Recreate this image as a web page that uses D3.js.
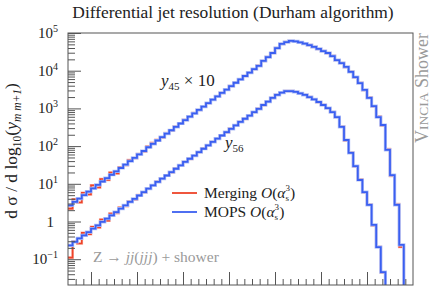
<!DOCTYPE html>
<html><head><meta charset="utf-8">
<script src="https://cdn.jsdelivr.net/npm/d3@7"></script>
<style>
body{margin:0;background:#fff}
svg{display:block}
text{font-family:"Liberation Serif","DejaVu Serif",serif}
</style>
</head><body><svg id="c" width="431" height="286"></svg>
<script>
// ---- data ----
const binStart = -7.5;
const binWidth = 0.1;
const xMajorTicks = [-7, -6, -5, -4, -3, -2, -1];
const yTickExponents = [-1, 0, 1, 2, 3, 4, 5];
const y45Factor = 10;

const y45Merging = [0.22,0.39,0.32,0.58,0.52,0.91,0.80,1.34,1.26,1.98,1.89,2.75,3.10,4.30,4.75,6.20,7.20,9.70,12.2,14.6,
  16.8,22.1,25.9,33.0,39.2,49.5,59.8,75.2,90.5,113,137,171,208,258,314,391,477,592,721,895,
  1090,1360,1810,2300,2940,3990,5110,5770,6150,5970,5600,5260,4770,4290,3780,3330,2930,2470,1890,1600,
  1240,945,665,475,302,196,112,61.0,35.1,8.30,1.62,0.290,0.021,0.0006,0];
const y45Mops = [0.269,0.331,0.407,0.501,0.617,0.759,0.933,1.15,1.41,1.74,2.14,2.63,3.24,3.98,4.90,6.03,7.41,9.33,11.5,14.1,
  17.4,21.4,26.3,32.4,39.8,49.0,60.3,74.1,91.2,112,138,170,209,257,316,389,479,589,724,891,
  1100,1350,1820,2290,2950,3980,5130,5750,6170,5960,5620,5250,4790,4270,3800,3310,2950,2450,1910,1580,
  1260,933,676,468,309,191,115,58.9,36.3,7.94,1.70,0.275,0.024,0.0005,0];
const y56Merging = [0.11,0.30,0.26,0.50,0.46,0.72,0.70,1.12,1.05,1.62,1.66,2.35,2.55,3.45,3.85,5.05,5.90,7.60,9.00,11.4,
  13.6,16.9,20.1,25.4,30.6,38.4,45.8,56.8,68.6,85.9,104,130,157,193,232,290,352,441,527,651,
  789,984,1220,1520,1900,2300,2620,2890,2870,2760,2500,2300,1990,1750,1470,1240,1010,801,583,330,
  142,67.5,28.9,12.9,5.90,2.81,0.79,0.215,0.044,0,0,0,0,0,0];
const y56Mops = [0.234,0.288,0.355,0.427,0.525,0.646,0.794,0.977,1.20,1.45,1.78,2.19,2.69,3.31,3.98,4.90,6.03,7.41,9.12,11.2,
  13.8,16.6,20.4,25.1,30.9,38.0,46.2,56.2,69.2,85.1,105,129,158,191,234,288,355,437,531,646,
  794,977,1230,1510,1910,2290,2630,2880,2880,2750,2510,2290,2000,1740,1480,1230,1020,794,589,324,
  145,66.1,29.5,12.6,6.03,2.75,0.813,0.209,0.0457,0,0,0,0,0,0];

// ---- layout ----
const L = 68, R = 413, T = 33, B = 285;
const svg = d3.select("#c");
const x = d3.scaleLinear().domain([-7.5, 0]).range([L, R]);
const y = d3.scaleLog().domain([Math.pow(10, -1.684), 1e5]).range([B, T]);

const RED = "#ee4329", BLUE = "#3b5ff0";

svg.append("defs").append("clipPath").attr("id", "clip")
  .append("rect").attr("x", L).attr("y", T).attr("width", R - L).attr("height", B - T);

function stepPts(vals, factor) {
  const pts = vals.map((v, i) => [binStart + i * binWidth, v * factor]);
  pts.push([binStart + vals.length * binWidth, vals[vals.length - 1] * factor]);
  return pts;
}
const line = d3.line()
  .x(d => x(d[0]))
  .y(d => d[1] > 0 ? y(d[1]) : B + 20)
  .curve(d3.curveStepAfter);

const g = svg.append("g").attr("clip-path", "url(#clip)");
function drawSeries(vals, factor, color, halo, hw, cw) {
  const p = stepPts(vals, factor);
  if (halo) g.append("path").attr("d", line(p)).attr("fill", "none")
    .attr("stroke", halo).attr("stroke-width", hw);
  g.append("path").attr("d", line(p)).attr("fill", "none")
    .attr("stroke", color).attr("stroke-width", cw);
}
drawSeries(y45Merging, y45Factor, RED, "#f8b4a8", 2.6, 1.6);
drawSeries(y56Merging, 1, RED, "#f8b4a8", 2.6, 1.6);
drawSeries(y45Mops, y45Factor, BLUE, "#b3c1f8", 3.2, 1.8);
drawSeries(y56Mops, 1, BLUE, "#b3c1f8", 3.2, 1.8);

// ---- frame & axes ----
svg.append("rect").attr("x", L).attr("y", T).attr("width", R - L).attr("height", B - T)
  .attr("fill", "none").attr("stroke", "#555").attr("stroke-width", 1);

const yMinor = [];
for (let e = -2; e <= 4; e++) for (let k = 2; k <= 9; k++) {
  const v = k * Math.pow(10, e);
  if (v >= y.domain()[0] && v <= 1e5) yMinor.push(v);
}
const yAx = svg.append("g").attr("transform", `translate(${L},0)`);
yAx.call(d3.axisRight(y).tickValues(yTickExponents.map(e => Math.pow(10, e))).tickSize(13).tickFormat(""));
yAx.call(g2 => g2.select(".domain").remove());
const yAx2 = svg.append("g").attr("transform", `translate(${L},0)`);
yAx2.call(d3.axisRight(y).tickValues(yMinor).tickSize(7).tickFormat(""));
yAx2.call(g2 => g2.select(".domain").remove());

const xMinor = [];
for (let v = -7.5; v < 0; v += 1 / 6) {
  const r = Math.round(v * 6) / 6;
  if (Math.abs(r - Math.round(r)) > 1e-6 && r > -7.5) xMinor.push(r);
}
const xAx = svg.append("g").attr("transform", `translate(0,${B})`);
xAx.call(d3.axisTop(x).tickValues(xMajorTicks).tickSize(13).tickFormat(""));
xAx.call(g2 => g2.select(".domain").remove());
const xAx2 = svg.append("g").attr("transform", `translate(0,${B})`);
xAx2.call(d3.axisTop(x).tickValues(xMinor).tickSize(6).tickFormat(""));
xAx2.call(g2 => g2.select(".domain").remove());
svg.selectAll(".tick line").attr("stroke", "#555");

// y tick labels
yTickExponents.forEach(e => {
  const t = svg.append("text").attr("y", y(Math.pow(10, e)) + 5).attr("font-size", 15).attr("fill", "#222");
  if (e === 0) {
    t.attr("x", 54).attr("text-anchor", "end").text("1");
  } else {
    t.attr("x", 58).attr("text-anchor", "end");
    t.append("tspan").text("10");
    t.append("tspan").attr("font-size", 10).attr("dy", -6).text(e < 0 ? "\u2212" + (-e) : String(e));
  }
});

// title
svg.append("text").attr("x", 233).attr("y", 18).attr("text-anchor", "middle")
  .attr("font-size", 17.4).attr("fill", "#222")
  .text("Differential jet resolution (Durham algorithm)");

// y axis title
const yt = svg.append("text").attr("transform", "translate(17,151) rotate(-90)")
  .attr("text-anchor", "middle").attr("font-size", 17.5).attr("fill", "#222");
yt.append("tspan").text("d \u03c3 / d log");
yt.append("tspan").attr("font-size", 11.5).attr("dy", 4).text("10");
yt.append("tspan").attr("dy", -4).text("(");
yt.append("tspan").attr("font-style", "italic").text("y");
yt.append("tspan").attr("font-size", 11.5).attr("dy", 4).attr("font-style", "italic").text("m m+1");
yt.append("tspan").attr("dy", -4).text(")");

// right label
const rl = svg.append("text").attr("transform", "translate(428,33) rotate(-90)")
  .attr("text-anchor", "end").attr("font-size", 18).attr("fill", "#9a9a9a");
rl.append("tspan").text("V");
rl.append("tspan").attr("font-size", 13.5).text("INCIA");
rl.append("tspan").text(" Shower");

// curve labels
const l1 = svg.append("text").attr("x", 161).attr("y", 86).attr("font-size", 17).attr("fill", "#222");
l1.append("tspan").attr("font-style", "italic").text("y");
l1.append("tspan").attr("font-size", 11).attr("dy", 4).text("45");
l1.append("tspan").attr("dy", -4).text(" \u00d7 10");
const l2 = svg.append("text").attr("x", 225).attr("y", 148).attr("font-size", 17).attr("fill", "#222");
l2.append("tspan").attr("font-style", "italic").text("y");
l2.append("tspan").attr("font-size", 11).attr("dy", 4).text("56");

// legend
const legend = [
  {name: "Merging", color: RED, y: 193},
  {name: "MOPS", color: BLUE, y: 212}
];
legend.forEach(d => {
  svg.append("line").attr("x1", 172).attr("x2", 197).attr("y1", d.y).attr("y2", d.y)
    .attr("stroke", d.color).attr("stroke-width", 1.8);
  const t = svg.append("text").attr("x", 204).attr("y", d.y + 5).attr("font-size", 15.5).attr("fill", "#222");
  t.append("tspan").text(d.name + " ");
  t.append("tspan").attr("font-style", "italic").text("O");
  t.append("tspan").text("(");
  t.append("tspan").attr("font-style", "italic").text("\u03b1");
  t.append("tspan").attr("font-size", 9).attr("dy", -7.5).text("3");
  t.append("tspan").attr("font-size", 9).attr("dx", -4.5).attr("dy", 10).text("s");
  t.append("tspan").attr("dy", -2.5).attr("dx", 1).text(")");
});

// process label
const pl = svg.append("text").attr("x", 93).attr("y", 262).attr("font-size", 15.5).attr("fill", "#9a9a9a");
pl.append("tspan").text("Z \u2192 ");
pl.append("tspan").attr("font-style", "italic").text("jj");
pl.append("tspan").text("(");
pl.append("tspan").attr("font-style", "italic").text("jjj");
pl.append("tspan").text(") + shower");
</script>
</body></html>
